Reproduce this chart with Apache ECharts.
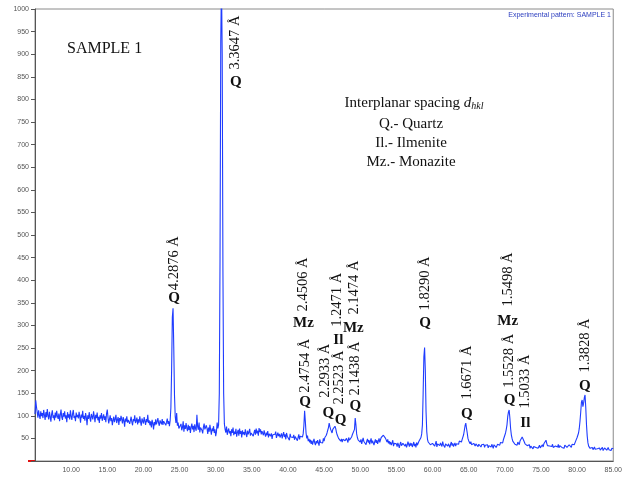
<!DOCTYPE html>
<html><head><meta charset="utf-8">
<script src="https://cdn.jsdelivr.net/npm/echarts@6/dist/echarts.min.js"></script>
<style>html,body{margin:0;padding:0;background:#fff}#c{width:625px;height:478px}</style>
</head><body><div id="c"></div>
<script>
// 2-theta grid (degrees)
const START = 5.0, STEP = 0.1;
// intensity readings, 0.1 deg steps
const seg05 = [104,134,120,108,96,112,101,93,110,99,106,95,113,102,91,108,97,115,100,92,109,98,87,104,112,95,101,90,107,96,111,99,93,105,88,102,114,97,91,106,98,110,94,101,86,108,96,103,92,112,99,91,105,113,95,100,88,107,97,102,94,109,98,85,103,96,111,93,100,89,106,97,79,101,93,108,95,87,104,98,92,110,99,86,102,95,107,90,98,84,101,94,106,89,97,103,91,99,86,105];
const seg15 = [114,96,83,92,101,88,95,79,90,98,86,93,102,84,91,97,80,95,88,100,92,83,97,89,76,94,87,99,85,91,95,82,90,98,86,79,93,88,101,84,89,96,81,92,85,99,87,78,94,90,83,97,88,80,93,86,102,84,90,79,88,74,91,83,70,86,79,92,81,87,95,84,78,90,86,81,93,80,88,84,91,79,86,94,82,88,77,90,118,200,318,338,250,145,98,84,106,78,85,72];
const seg25 = [76,70,82,68,74,88,65,79,71,84,73,66,80,69,77,62,75,83,70,78,64,81,72,67,102,76,69,85,63,74,78,68,61,75,83,70,66,79,72,60,74,65,80,69,58,72,66,77,62,70,55,64,85,72,80,150,450,930,1060,900,420,150,82,70,63,76,58,67,72,61,66,55,70,62,74,57,65,60,71,54,63,69,56,72,60,66,52,68,59,64,57,70,61,53,67,59,64,71,56,62];
const seg35 = [60,66,55,63,69,58,72,61,67,56,73,64,70,59,66,62,57,68,60,54,63,57,66,52,60,64,55,61,49,58,62,54,59,65,51,57,63,55,60,52,56,61,50,58,64,53,59,48,62,55,51,57,46,60,53,49,56,52,58,47,54,50,57,45,52,59,48,55,51,56,53,60,78,111,88,62,50,56,44,49,41,47,38,45,36,43,49,40,35,44,39,46,42,34,48,41,37,45,40,50];
const seg45 = [44,52,48,57,62,68,74,84,76,70,66,62,70,68,74,77,72,64,58,55,50,47,53,44,49,42,48,51,46,45,43,50,47,41,52,46,44,49,53,58,56,62,70,95,80,60,52,47,44,50,42,48,38,45,51,43,40,47,36,44,49,41,46,37,44,50,39,45,42,35,43,48,40,46,38,44,50,41,47,52,49,55,57,53,58,50,46,42,48,39,44,37,42,35,40,46,33,39,36,41];
const seg55 = [38,32,40,35,29,37,42,34,31,39,36,41,33,38,30,35,43,37,32,40,34,39,31,36,42,33,38,30,41,35,37,43,40,46,52,60,80,150,230,251,200,110,65,48,42,38,45,36,40,34,39,35,42,33,37,44,31,38,36,41,34,40,37,32,43,36,39,30,38,35,41,33,38,35,30,37,42,34,39,32,36,40,33,38,35,41,37,44,40,46,42,48,52,58,68,78,84,72,62,50];
const seg65 = [45,41,38,43,36,40,34,39,37,33,38,35,41,32,37,34,39,31,36,40,33,37,30,35,39,32,36,29,34,38,35,31,37,33,28,36,32,38,30,34,37,33,39,35,41,38,44,40,47,52,56,62,70,80,98,108,113,95,72,58,50,44,40,43,37,41,38,35,42,39,36,44,40,48,53,54,46,42,38,35,39,34,37,31,36,28,33,30,35,27,32,29,34,30,26,33,28,31,35,29];
const seg75 = [33,30,36,31,38,35,40,46,39,34,31,36,33,29,35,32,37,30,34,28,33,30,35,31,37,29,34,32,36,30,34,31,28,35,32,37,30,33,29,36,32,35,30,37,33,38,36,40,44,48,52,56,62,72,88,108,130,135,120,128,140,146,118,80,55,40,33,30,28,31,27,30,25,28,31,26,29,24,27,30,26,29,24,28,25,30,23,27,29,25,28,24,27,30,25,29,26,23,28,26,27];

// d-spacing labels: text, 2theta, intensity at label foot
const dLabels = [
  ['4.2876 Å', 24.23, 378], ['3.3647 Å', 32.64, 866], ['2.4754 Å', 42.38, 151],
  ['2.4506 Å', 42.15, 331], ['2.2933 Å', 45.18, 140], ['2.2523 Å', 47.11, 125],
  ['1.2471 Å', 46.87, 297], ['2.1474 Å', 49.18, 324], ['2.1438 Å', 49.31, 145],
  ['1.8290 Å', 58.96, 333], ['1.6671 Å', 64.75, 136], ['1.5528 Å', 70.67, 162],
  ['1.5498 Å', 70.40, 342], ['1.5033 Å', 72.88, 116], ['1.3828 Å', 81.08, 196]
];
// phase labels: text, 2theta, intensity at label centre
const phaseLabels = [
  ['Q', 24.23, 361], ['Q', 32.78, 838], ['Q', 42.36, 130], ['Mz', 42.15, 305],
  ['Q', 45.59, 105], ['Q', 47.29, 91], ['Il', 46.97, 268], ['Mz', 49.04, 294],
  ['Q', 49.31, 122], ['Q', 58.96, 305], ['Q', 64.75, 104], ['Q', 70.67, 135],
  ['Mz', 70.40, 310], ['Il', 72.84, 84], ['Q', 81.08, 166]
];
const legendLines = ['Q.- Quartz', 'Il.- Ilmenite', 'Mz.- Monazite'];

const intensity = [].concat(seg05, seg15, seg25, seg35, seg45, seg55, seg65, seg75);
const pattern = intensity.map((v, i) => [Math.round((START + i * STEP) * 10) / 10, v]);

const chart = echarts.init(document.getElementById('c'), null, {renderer: 'canvas'});
const lab = {color: '#555', fontSize: 7, fontFamily: 'Liberation Sans'};
chart.setOption({
  animation: false,
  backgroundColor: '#fff',
  grid: {left: 35, right: 9, top: 9, bottom: 17, show: true, borderColor: '#8a8a8a', borderWidth: 1},
  xAxis: {
    type: 'value', min: 5, max: 85, interval: 5,
    axisLine: {lineStyle: {color: '#555'}},
    axisTick: {show: false},
    splitLine: {show: false},
    axisLabel: Object.assign({margin: 6, formatter: v => v === 5 ? '' : v.toFixed(2)}, lab)
  },
  yAxis: {
    type: 'value', min: 0, max: 1000, interval: 50,
    axisLine: {show: true, lineStyle: {color: '#555'}},
    axisTick: {show: true, length: 4, lineStyle: {color: '#555'}},
    splitLine: {show: false},
    axisLabel: Object.assign({margin: 6, formatter: v => v === 0 ? '' : String(v)}, lab)
  },
  series: [{
    type: 'line', data: pattern, symbol: 'none', clip: true,
    lineStyle: {color: '#1f3cff', width: 1.1}
  }]
});

const serif = '"Liberation Serif", "DejaVu Serif", serif';
const g = [];
dLabels.forEach(([t, x, y]) => {
  const p = chart.convertToPixel({gridIndex: 0}, [x, y]);
  g.push({type: 'text', x: p[0], y: p[1], rotation: Math.PI / 2,
    style: {text: t, font: '14.5px ' + serif, fill: '#111', textAlign: 'left', textVerticalAlign: 'middle', align: 'left', verticalAlign: 'middle'}});
});
phaseLabels.forEach(([t, x, y]) => {
  const p = chart.convertToPixel({gridIndex: 0}, [x, y]);
  g.push({type: 'text', x: p[0], y: p[1],
    style: {text: t, font: 'bold 15px ' + serif, fill: '#111', textAlign: 'center', textVerticalAlign: 'middle', align: 'center', verticalAlign: 'middle'}});
});
g.push({type: 'text', x: 67, y: 49, style: {text: 'SAMPLE 1', font: '16px ' + serif, fill: '#111', textAlign: 'left', textVerticalAlign: 'middle', align: 'left', verticalAlign: 'middle'}});
g.push({type: 'text', x: 414, y: 103, style: {
  text: 'Interplanar spacing {d|d}{s|hkl}', font: '15px ' + serif, fill: '#111',
  textAlign: 'center', textVerticalAlign: 'middle', align: 'center', verticalAlign: 'middle',
  rich: {d: {font: 'italic 15px ' + serif, fill: '#111'}, s: {font: 'italic 10px ' + serif, fill: '#111', padding: [6, 0, 0, 0]}}
}});
legendLines.forEach((t, i) => {
  g.push({type: 'text', x: 411, y: 124 + i * 19, style: {text: t, font: '15px ' + serif, fill: '#111', textAlign: 'center', textVerticalAlign: 'middle', align: 'center', verticalAlign: 'middle'}});
});
g.push({type: 'text', x: 611, y: 15, style: {text: 'Experimental pattern: SAMPLE 1', font: '7px "Liberation Sans", Arial, sans-serif', fill: '#2b3dbf', textAlign: 'right', textVerticalAlign: 'middle', align: 'right', verticalAlign: 'middle'}});
g.push({type: 'line', shape: {x1: 28, y1: 461, x2: 35, y2: 461}, style: {stroke: '#e01010', lineWidth: 2}});
chart.setOption({graphic: g});
</script>
</body></html>
